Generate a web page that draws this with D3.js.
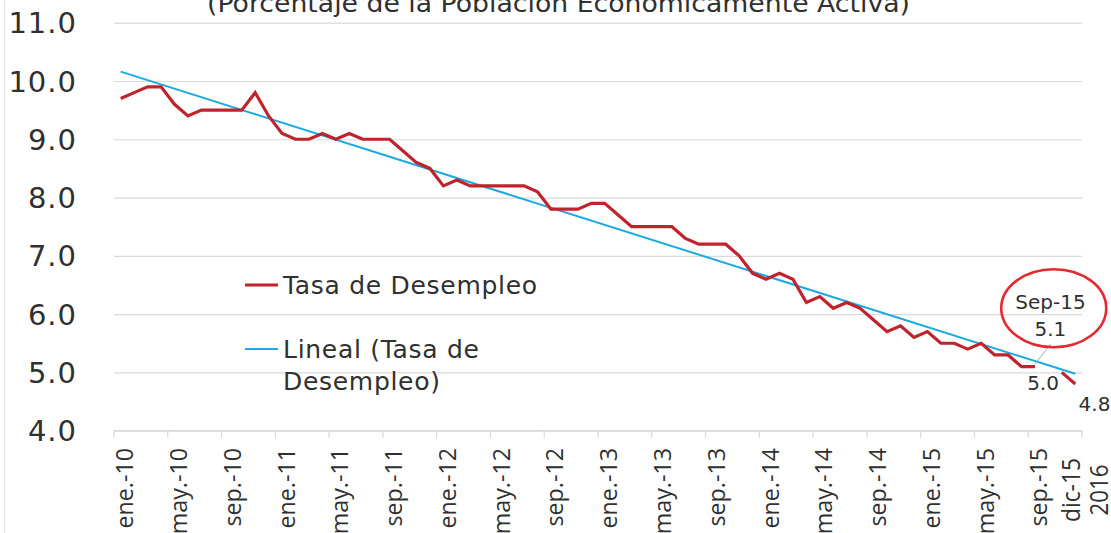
<!DOCTYPE html>
<html><head><meta charset="utf-8">
<script src="https://cdn.jsdelivr.net/npm/d3@7"></script>
<style>
html,body{margin:0;padding:0;background:#fff;}
svg{display:block;}
</style></head>
<body>
<svg id="chart" width="1111" height="533"></svg>
<script>
// ---------- data ----------
const monthNames = ["ene","feb","mar","abr","may","jun","jul","ago","sep","oct","nov","dic"];
const years = ["10","11","12","13","14","15"];
const categories = years.flatMap(yy => monthNames.map(m => m + "-" + yy));
const tasaDesempleo = [
  9.7, 9.8, 9.9, 9.9, 9.6, 9.4, 9.5, 9.5, 9.5, 9.5, 9.8, 9.4,   // 2010
  9.1, 9.0, 9.0, 9.1, 9.0, 9.1, 9.0, 9.0, 9.0, 8.8, 8.6, 8.5,   // 2011
  8.2, 8.3, 8.2, 8.2, 8.2, 8.2, 8.2, 8.1, 7.8, 7.8, 7.8, 7.9,   // 2012
  7.9, 7.7, 7.5, 7.5, 7.5, 7.5, 7.3, 7.2, 7.2, 7.2, 7.0, 6.7,   // 2013
  6.6, 6.7, 6.6, 6.2, 6.3, 6.1, 6.2, 6.1, 5.9, 5.7, 5.8, 5.6,   // 2014
  5.7, 5.5, 5.5, 5.4, 5.5, 5.3, 5.3, 5.1, 5.1, null, 5.0, 4.8   // 2015
];
const tickLabels = ["ene.-10","may.-10","sep.-10","ene.-11","may.-11","sep.-11",
  "ene.-12","may.-12","sep.-12","ene.-13","may.-13","sep.-13",
  "ene.-14","may.-14","sep.-14","ene.-15","may.-15","sep.-15"];
const yTicks = [4, 5, 6, 7, 8, 9, 10, 11];
const titleText = "(Porcentaje de la Población Económicamente Activa)";
const legendLabels = ["Tasa de Desempleo", "Lineal (Tasa de", "Desempleo)"];
const extraAxisLabels = ["dic-15", "2016"];
const calloutCategory = "sep-15";
const calloutLines = ["Sep-15", "5.1"];
const endLabels = [{cat: "nov-15", text: "5.0"}, {cat: "dic-15", text: "4.8"}];

// ---------- layout ----------
const plotL = 114, plotR = 1082, plotT = 22.7, plotB = 430.7;
const svg = d3.select("#chart");
const RED = "#C0232B", BLUE = "#1AA9E1", GRID = "#D9D9D9", TXT = "#303030";

const x = d3.scaleBand().domain(categories).range([plotL, plotR]).padding(0);
const cx = c => x(c) + x.bandwidth() / 2;
const y = d3.scaleLinear().domain([4, 11]).range([plotB, plotT]);

// left border
svg.append("line").attr("x1", 4.5).attr("x2", 4.5).attr("y1", 0).attr("y2", 533)
  .attr("stroke", "#E3E3E3").attr("stroke-width", 1);

// title (mostly cut off at top, as in the original)
svg.append("text").attr("x", 207).attr("y", 12)
  .attr("textLength", 703).attr("lengthAdjust", "spacingAndGlyphs")
  .attr("font-family", "DejaVu Sans").attr("font-size", 24).attr("fill", TXT)
  .text(titleText);

// y axis with gridlines
const yAxis = svg.append("g").attr("transform", `translate(${plotL},0)`)
  .call(d3.axisLeft(y).tickValues(yTicks).tickFormat(d3.format(".1f"))
    .tickSize(-(plotR - plotL)).tickPadding(37));
yAxis.select(".domain").remove();
yAxis.selectAll(".tick line").attr("stroke", GRID).attr("stroke-width", 1.2);
yAxis.selectAll(".tick text").attr("font-family", "DejaVu Sans").attr("font-size", 29)
  .attr("letter-spacing", 1).attr("fill", TXT).attr("dy", "0.35em");

// x axis line and ticks
svg.append("line").attr("x1", plotL).attr("x2", plotR).attr("y1", plotB).attr("y2", plotB)
  .attr("stroke", GRID).attr("stroke-width", 1.2);
const tickIdx = d3.range(0, categories.length + 1, 4);
svg.selectAll(".xtick").data(tickIdx).join("line").attr("class", "xtick")
  .attr("x1", i => i < categories.length ? x(categories[i]) : x.range()[1])
  .attr("x2", i => i < categories.length ? x(categories[i]) : x.range()[1])
  .attr("y1", plotB).attr("y2", plotB + 7)
  .attr("stroke", GRID).attr("stroke-width", 1.2);

// x labels (rotated)
svg.selectAll(".xlab").data(tickLabels).join("text").attr("class", "xlab")
  .attr("transform", (d, i) => `translate(${cx(categories[i * 4]) + 12.5},448) rotate(-90) scale(0.95,1)`)
  .attr("text-anchor", "end")
  .attr("font-family", "Open Sans").attr("font-size", 24.5).attr("fill", TXT)
  .text(d => d);
// extra end labels
const extraX = [1080, 1108], extraLen = [64, 51];
svg.selectAll(".xextra").data(extraAxisLabels).join("text").attr("class", "xextra")
  .attr("transform", (d, i) => `translate(${extraX[i]},490) rotate(-90)`)
  .attr("text-anchor", "middle")
  .attr("textLength", (d, i) => extraLen[i]).attr("lengthAdjust", "spacingAndGlyphs")
  .attr("font-family", "Open Sans").attr("font-size", 25).attr("fill", TXT)
  .text(d => d);

// trend line (OLS on data points)
const pts = tasaDesempleo.map((v, i) => [i, v]).filter(p => p[1] != null);
const mx = d3.mean(pts, p => p[0]), my = d3.mean(pts, p => p[1]);
const slope = d3.sum(pts, p => (p[0] - mx) * (p[1] - my)) / d3.sum(pts, p => (p[0] - mx) ** 2);
const icpt = my - slope * mx;
const firstC = categories[0], lastC = categories[categories.length - 1];
svg.append("line")
  .attr("x1", cx(firstC)).attr("y1", y(icpt))
  .attr("x2", cx(lastC)).attr("y2", y(icpt + slope * (categories.length - 1)))
  .attr("stroke", BLUE).attr("stroke-width", 2);

// data line
const line = d3.line().defined(d => d.v != null).x(d => cx(d.c)).y(d => y(d.v));
svg.append("path")
  .datum(categories.map((c, i) => ({c, v: tasaDesempleo[i]})))
  .attr("d", line).attr("fill", "none").attr("stroke", RED).attr("stroke-width", 3.2)
  .attr("stroke-linejoin", "miter");

// legend
const legend = svg.append("g");
legend.append("line").attr("x1", 245).attr("x2", 278).attr("y1", 285).attr("y2", 285)
  .attr("stroke", RED).attr("stroke-width", 3);
legend.append("line").attr("x1", 245).attr("x2", 278).attr("y1", 349).attr("y2", 349)
  .attr("stroke", BLUE).attr("stroke-width", 2);
const legY = [293.5, 358, 390];
legend.selectAll("text").data(legendLabels).join("text")
  .attr("x", 283).attr("y", (d, i) => legY[i])
  .attr("font-family", "DejaVu Sans").attr("font-size", 25).attr("letter-spacing", 0.7)
  .attr("fill", TXT)
  .text(d => d);

// callout for Sep-15
const px = cx(calloutCategory), py = y(tasaDesempleo[categories.indexOf(calloutCategory)]);
svg.append("line").attr("x1", px).attr("y1", py - 2.5).attr("x2", px + 15.5).attr("y2", py - 22.5)
  .attr("stroke", "#A6A6A6").attr("stroke-width", 1);
svg.append("ellipse").attr("cx", px + 18.8).attr("cy", py - 58.4).attr("rx", 52.5).attr("ry", 39)
  .attr("fill", "none").attr("stroke", "#E52A2F").attr("stroke-width", 2.6);
const calY = [-57.4, -30.7];
svg.selectAll(".callout").data(calloutLines).join("text").attr("class", "callout")
  .attr("x", px + 15.5).attr("y", (d, i) => py + calY[i])
  .attr("text-anchor", "middle")
  .attr("font-family", "DejaVu Sans").attr("font-size", 20).attr("fill", TXT)
  .text(d => d);

// end data labels
const endOff = [[-18.8, 17.7], [19.2, 26.7]];
svg.selectAll(".endlab").data(endLabels).join("text").attr("class", "endlab")
  .attr("x", (d, i) => cx(d.cat) + endOff[i][0])
  .attr("y", (d, i) => y(tasaDesempleo[categories.indexOf(d.cat)]) + endOff[i][1])
  .attr("text-anchor", "middle")
  .attr("font-family", "DejaVu Sans").attr("font-size", 20).attr("fill", TXT)
  .text(d => d.text);
</script>
</body></html>
